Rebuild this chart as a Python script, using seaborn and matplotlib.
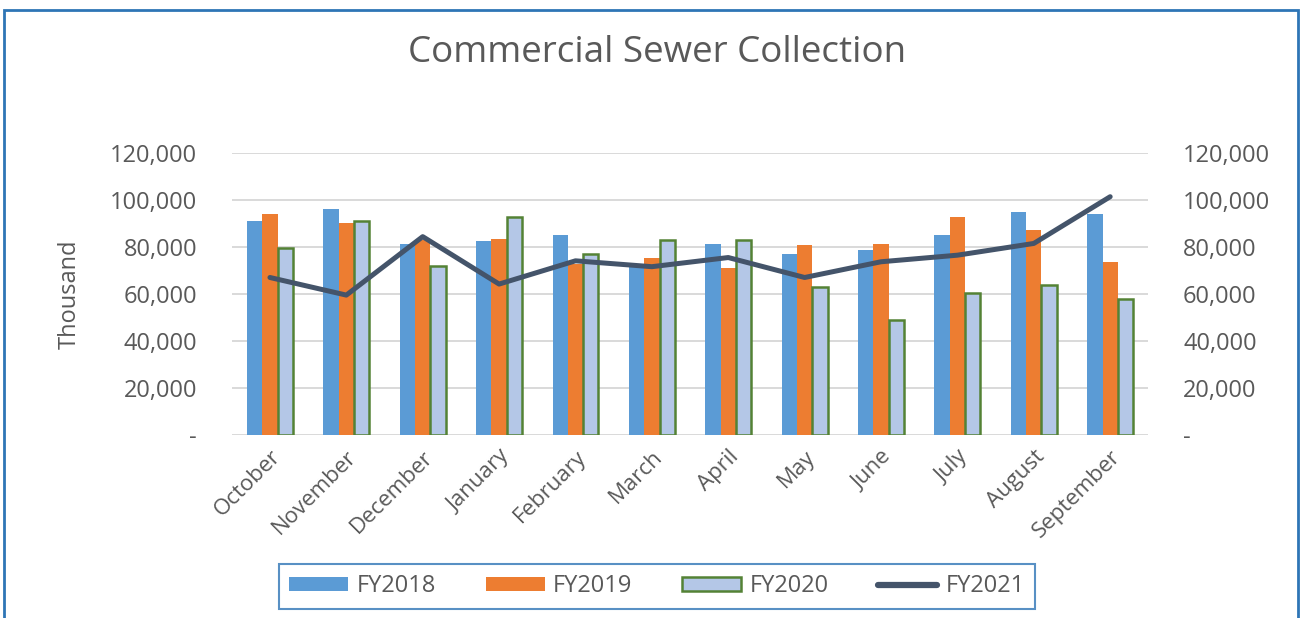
import numpy as np
import pandas as pd
import matplotlib.pyplot as plt
import seaborn as sns
from matplotlib.patches import Rectangle, Patch
from matplotlib.lines import Line2D
from matplotlib.ticker import FuncFormatter

months = ['October', 'November', 'December', 'January', 'February', 'March',
          'April', 'May', 'June', 'July', 'August', 'September']
fy2018 = [91000, 96300, 81300, 82600, 85200, 71700, 81300, 77100, 78600, 85300, 95100, 94000]
fy2019 = [94100, 90200, 83000, 83600, 73000, 75500, 71100, 80800, 81300, 93000, 87500, 73800]
fy2020 = [79500, 91100, 71800, 93000, 77200, 82900, 82900, 63100, 48800, 60300, 64100, 58000]
fy2021 = [67100, 59600, 84500, 64300, 74200, 71700, 75600, 67100, 73800, 76600, 81600, 101500]

bar_colors = ['#5B9BD5', '#ED7D31', '#B4C7E7']
line_color = '#44546A'
text_color = '#595959'

df = pd.DataFrame({
    'month': months * 3,
    'value': fy2018 + fy2019 + fy2020,
    'year': ['FY2018'] * 12 + ['FY2019'] * 12 + ['FY2020'] * 12,
})

sns.set_style('white')
plt.rcParams['font.family'] = ['Open Sans', 'DejaVu Sans']

fig = plt.figure(figsize=(13.02, 6.18), dpi=100)
ax = fig.add_axes([0.178, 0.296, 0.704, 0.456])

sns.barplot(data=df, x='month', y='value', hue='year', order=months,
            palette=bar_colors, width=0.6, saturation=1, ax=ax, legend=False,
            linewidth=0, edgecolor='none')
for bar in ax.containers[2]:
    bar.set_edgecolor('#548235')
    bar.set_linewidth(1.8)

ax.plot(np.arange(len(months)), fy2021, color=line_color, linewidth=3.6,
        solid_capstyle='round', solid_joinstyle='round', zorder=5)

fmt = FuncFormatter(lambda v, p: '-' if v == 0 else f'{int(v):,}')
ticks = np.arange(0, 120001, 20000)
ax.set_ylim(0, 120000)
ax.set_xlim(-0.5, 11.5)
ax.set_yticks(ticks)
ax.yaxis.set_major_formatter(fmt)
ax.grid(axis='y', color='#D9D9D9', linewidth=1.4)
ax.set_axisbelow(True)
for s in ax.spines.values():
    s.set_visible(False)
ax.tick_params(axis='y', length=0, pad=25, labelsize=17, labelcolor=text_color)
ax.tick_params(axis='x', length=0, pad=8, labelsize=16, labelcolor=text_color)
plt.setp(ax.get_xticklabels(), rotation=45, ha='right', rotation_mode='anchor')
ax.set_xlabel('')
ax.set_ylabel('Thousand', fontsize=17, color=text_color, labelpad=20)

ax2 = ax.twinx()
ax2.set_ylim(0, 120000)
ax2.set_yticks(ticks)
ax2.yaxis.set_major_formatter(fmt)
for s in ax2.spines.values():
    s.set_visible(False)
ax2.tick_params(axis='y', length=0, pad=25, labelsize=17, labelcolor=text_color)

fig.text(0.505, 0.914, 'Commercial Sewer Collection', ha='center', va='center',
         fontsize=26.5, color=text_color)

handles = [Patch(facecolor=bar_colors[0], edgecolor='none'),
           Patch(facecolor=bar_colors[1], edgecolor='none'),
           Patch(facecolor=bar_colors[2], edgecolor='#548235', linewidth=1.8),
           Line2D([0], [0], color=line_color, linewidth=4.5, solid_capstyle='round')]
leg = fig.legend(handles, ['FY2018', 'FY2019', 'FY2020', 'FY2021'], ncol=4,
                 loc='center', bbox_to_anchor=(0.5046, 0.051), frameon=True,
                 fancybox=False, fontsize=17, handlelength=2.5, handleheight=0.5,
                 columnspacing=2.1, handletextpad=0.35, borderpad=0.45,
                 borderaxespad=0, labelcolor=text_color)
leg.get_frame().set_edgecolor('#2E75B6')
leg.get_frame().set_linewidth(1.5)

fig.patches.append(Rectangle((0.003, -0.1), 0.994, 1.1 - 10 / 618,
                             transform=fig.transFigure, fill=False,
                             edgecolor='#2E75B6', linewidth=2))

fig.savefig('out.png', dpi=100, facecolor='white')
